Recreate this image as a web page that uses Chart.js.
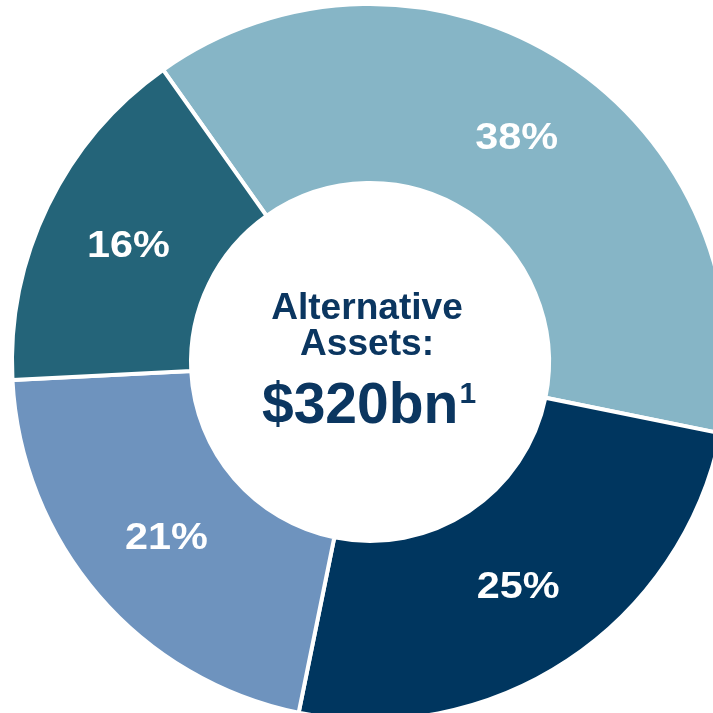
<!DOCTYPE html>
<html>
<head>
<meta charset="utf-8">
<script src="https://cdn.jsdelivr.net/npm/chart.js@4.4.0/dist/chart.umd.min.js"></script>
<style>
    html, body { margin: 0; padding: 0; background: #fff; overflow: hidden; width: 713px; height: 713px; }
    #wrap { position: absolute; left: 0; top: -8px; width: 740px; height: 740px; }
</style>
</head>
<body>
<div id="wrap">
    <canvas id="donut" width="740" height="740"></canvas>
</div>
<script>
const categories = ['Segment A', 'Segment B', 'Segment C', 'Segment D'];
const shares = [38, 25, 21, 16];
const sliceColors = ['#86B5C6', '#00365F', '#6E93BE', '#246479'];
const centerLines = ['Alternative', 'Assets:'];
const centerTotal = '$320bn';
const centerNote = '1';

const FONT = '"Liberation Sans", Arial, sans-serif';

// white percentage labels in each slice + centre text
const sliceLabels = {
    id: 'sliceLabels',
    afterDatasetsDraw(chart) {
        const ctx = chart.ctx;
        const meta = chart.getDatasetMeta(0);
        ctx.save();
        ctx.fillStyle = '#fff';
        ctx.font = 'bold 36px ' + FONT;
        ctx.textAlign = 'center';
        ctx.textBaseline = 'alphabetic';
        meta.data.forEach((arc, i) => {
            const pos = arc.tooltipPosition();
            ctx.save();
            ctx.translate(pos.x, pos.y + 12);
            ctx.scale(1.15, 1);
            ctx.fillText(shares[i] + '%', 0, 0);
            ctx.restore();
        });

        const cx = meta.data[0].x - 3;
        const cy = meta.data[0].y;
        ctx.fillStyle = '#0B3660';
        ctx.font = 'bold 36px ' + FONT;
        ctx.save();
        ctx.translate(cx, cy - 43);
        ctx.scale(1.03, 1);
        ctx.fillText(centerLines[0], 0, 0);
        ctx.restore();
        ctx.save();
        ctx.translate(cx, cy - 7);
        ctx.scale(1.03, 1);
        ctx.fillText(centerLines[1], 0, 0);
        ctx.restore();

        ctx.font = 'bold 57px ' + FONT;
        const wMain = ctx.measureText(centerTotal).width;
        ctx.font = 'bold 30px ' + FONT;
        const wNote = ctx.measureText(centerNote).width;
        const left = cx + 2 - (wMain + wNote + 1) / 2;
        ctx.textAlign = 'left';
        ctx.font = 'bold 57px ' + FONT;
        ctx.fillText(centerTotal, left, cy + 61);
        ctx.font = 'bold 30px ' + FONT;
        ctx.fillText(centerNote, left + wMain + 1, cy + 41);
        ctx.restore();
    }
};

const ctx = document.getElementById('donut').getContext('2d');
new Chart(ctx, {
    type: 'doughnut',
    data: {
        labels: categories,
        datasets: [{
            data: shares,
            backgroundColor: sliceColors,
            borderColor: '#ffffff',
            borderWidth: 4,
            borderAlign: 'center'
        }]
    },
    options: {
        responsive: false,
        animation: false,
        rotation: -35.3,
        radius: 358,
        cutout: 184,
        layout: { padding: 0 },
        plugins: {
            legend: { display: false },
            tooltip: { enabled: false }
        }
    },
    plugins: [sliceLabels]
});
</script>
</body>
</html>
